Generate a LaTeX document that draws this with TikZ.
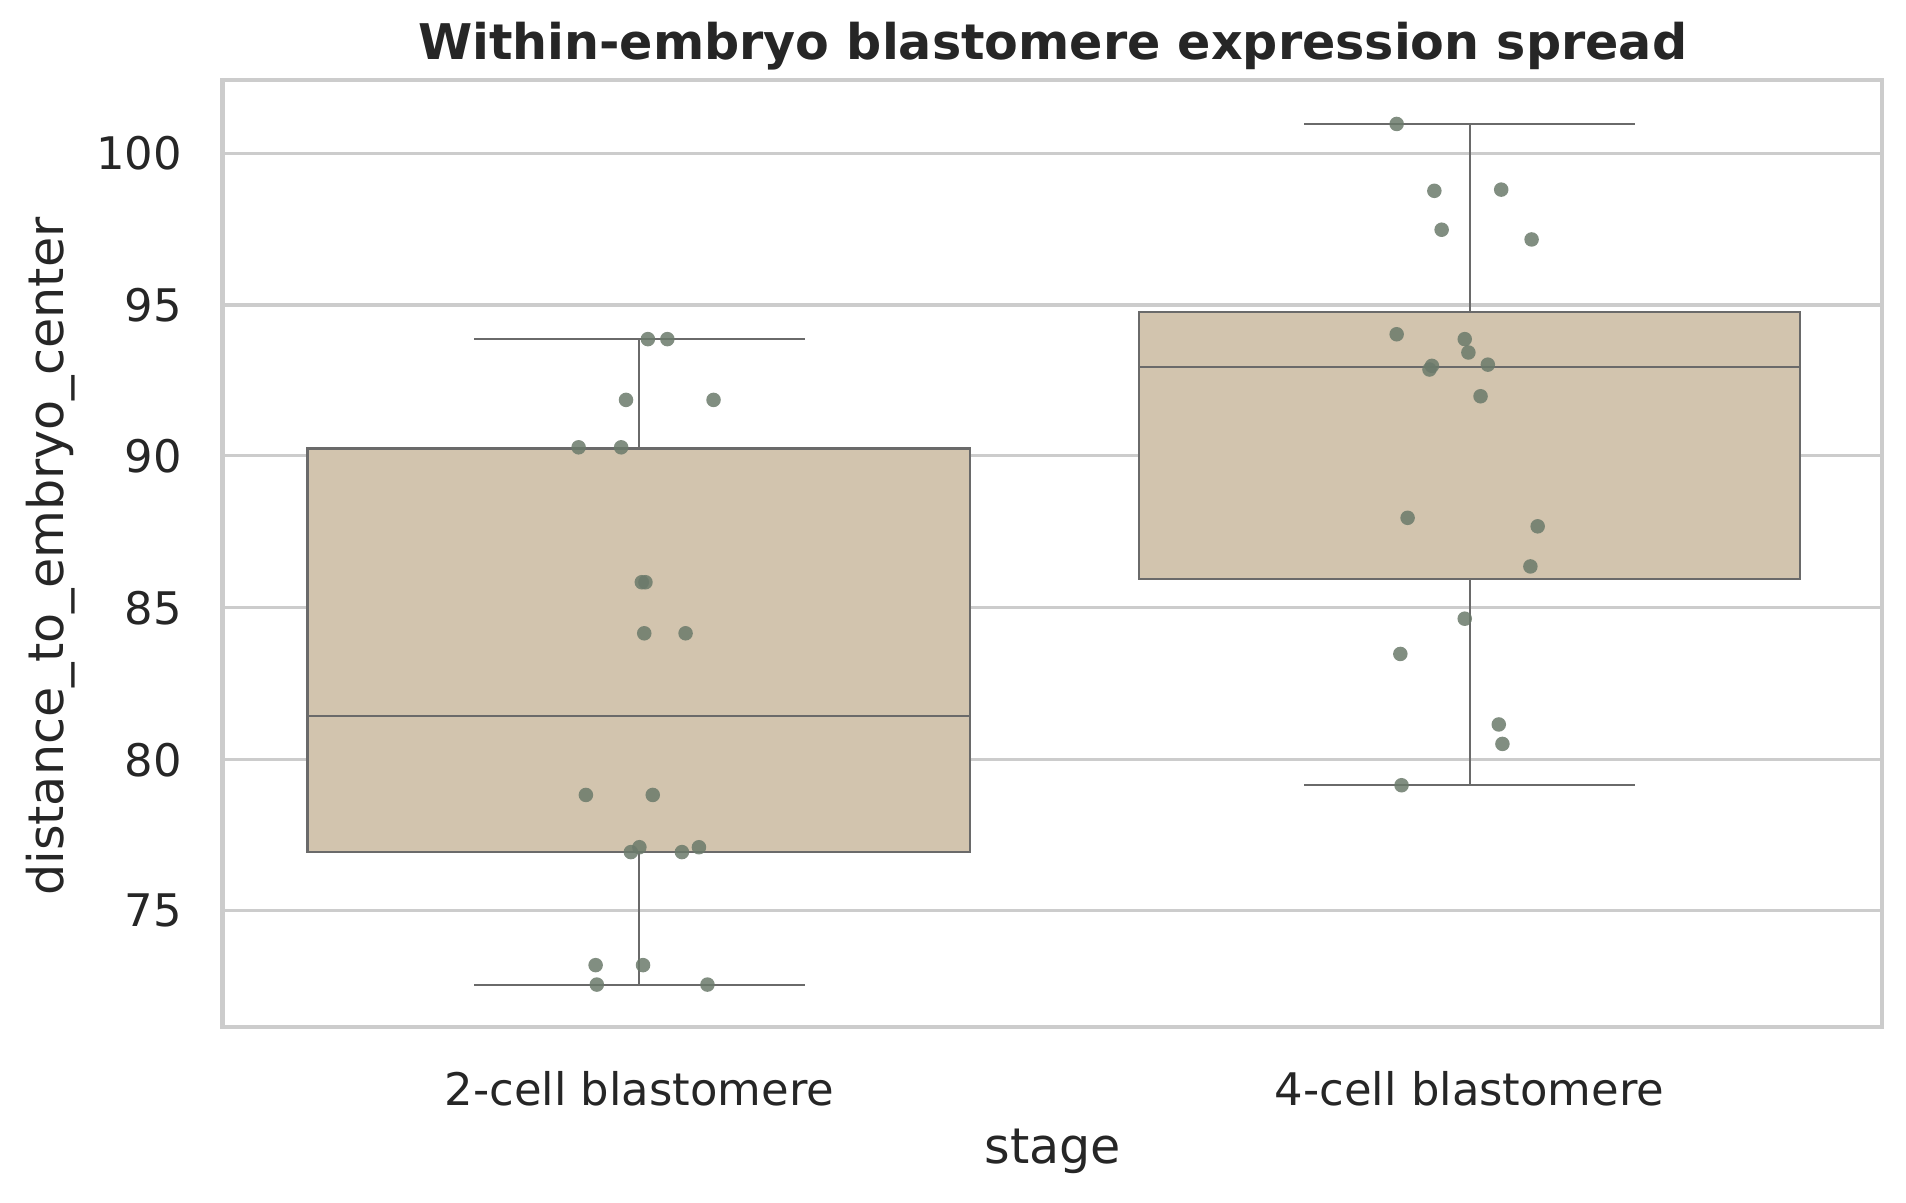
\documentclass[tikz,border=0pt]{standalone}
\usepackage{fontspec}
\setmainfont{DejaVu Sans}
\definecolor{gridgray}{HTML}{CCCCCC}
\definecolor{boxfill}{HTML}{D2C4AE}
\definecolor{boxline}{HTML}{6A6A6A}
\definecolor{dotcol}{HTML}{6B7A6B}
\definecolor{txt}{HTML}{262626}
\tikzset{
  grid line/.style={gridgray, line width=0.75pt},
  box line/.style={boxline, line width=0.5pt},
  dot/.style={fill=dotcol, fill opacity=0.85},
  tick label/.style={left=4pt, font=\fontsize{10.5}{12}\selectfont, text=txt},
}
\begin{document}
\begin{tikzpicture}[x=0.01cm, y=-0.01cm]
	\useasboundingbox (0,0) rectangle (1568,989);

	% grid and labels
	\foreach \v/\y in {75/749,80/625,85/500,90/375,95/251,100/126} {
	     \draw[grid line] (183,\y) -- (1548,\y);
	     \node[tick label] (tick\v) at (176,\y) {\v};
	}
	\draw[gridgray, line width=1pt] (183,66) rectangle (1548,845);

	% boxes
	\draw[box line] (526,810) -- (526,279) (390,810) -- (662,810) (390,279) -- (662,279);
	\draw[box line, fill=boxfill] (253,701) rectangle (798,369);
	\draw[box line] (253,589) -- (798,589);

	\draw[box line] (1209,646) -- (1209,102) (1073,646) -- (1345,646) (1073,102) -- (1345,102);
	\draw[box line, fill=boxfill] (937,476) rectangle (1481,257);
	\draw[box line] (937,302) -- (1481,302);

	% points
	\foreach \px/\py in {533/279,549/279,515/329,587/329,476/368,511/368,528/479,531/479,
	    530/521,564/521,482/654,537/654,526/697,519/701,561/701,575/697,490/794,529/794,491/810,582/810,
	    1149/102,1180/157,1235/156,1186/189,1260/197,1149/275,1205/279,1178/301,1176/304,1208/290,
	    1224/300,1218/326,1158/426,1265/433,1259/466,1205/509,1152/538,1233/596,1236/612,1153/646} {
	     \fill[dot] (\px,\py) circle (1.7pt);
	}

	% labels
	\node[font=\fontsize{10.5}{12}\selectfont, text=txt] (cat1) at (526,896) {2-cell blastomere};
	\node[font=\fontsize{10.5}{12}\selectfont, text=txt] (cat2) at (1209,896) {4-cell blastomere};
	\node[font=\fontsize{11.5}{13}\selectfont, text=txt] (xlabel) at (866,947) {stage};
	\node[font=\fontsize{11.5}{13}\selectfont, text=txt, rotate=90] (ylabel) at (42,458) {distance\_to\_embryo\_center};
	\node[font=\bfseries\fontsize{11.5}{13}\selectfont, text=txt] (title) at (866,38) {Within-embryo blastomere expression spread};
\end{tikzpicture}
\end{document}
